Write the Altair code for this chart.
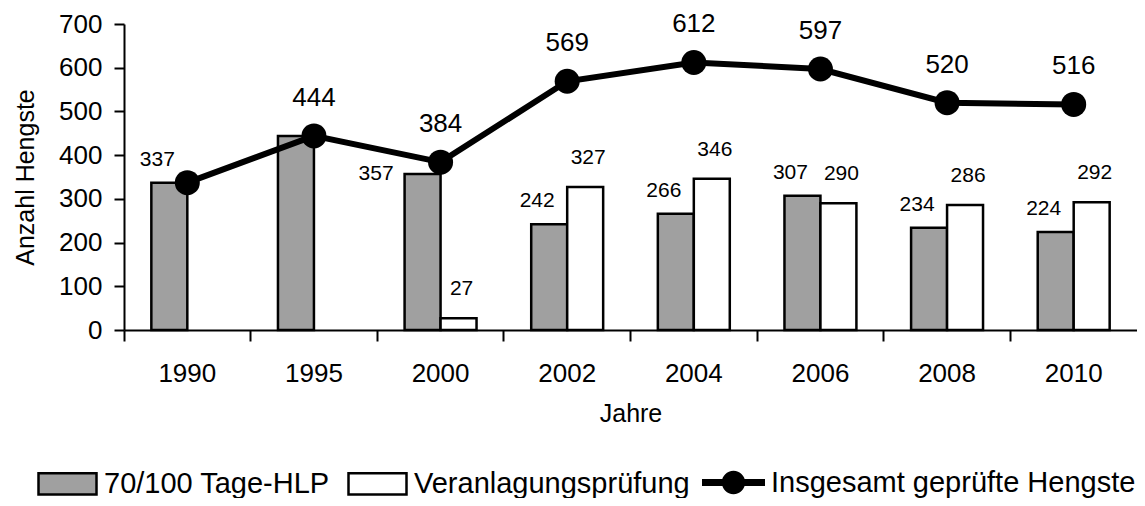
import altair as alt
import pandas as pd

years = ["1990", "1995", "2000", "2002", "2004", "2006", "2008", "2010"]
hlp = [337, 444, 357, 242, 266, 307, 234, 224]
vp = [None, None, 27, 327, 346, 290, 286, 292]
total = [337, 444, 384, 569, 612, 597, 520, 516]
series = ["70/100 Tage-HLP", "Veranlagungsprüfung", "Insgesamt geprüfte Hengste"]

rows = []
for y, h, v in zip(years, hlp, vp):
    rows.append({"Jahr": y, "Serie": series[0], "Wert": h})
    if v is not None:
        rows.append({"Jahr": y, "Serie": series[1], "Wert": v})
bars_df = pd.DataFrame(rows)
tot_df = pd.DataFrame({"Jahr": years, "Wert": total, "Serie": [series[2]] * len(years)})

FONT = "Liberation Sans"

xscale = alt.Scale(domain=years, paddingInner=0, paddingOuter=0)
yscale = alt.Scale(domain=[0, 700])

x_enc = alt.X("Jahr:N", scale=xscale, title="Jahre",
              axis=alt.Axis(bandPosition=0, labelOffset=0, labelAngle=0,
                            labelPadding=19, tickSize=11, titlePadding=15))
y_enc = alt.Y("Wert:Q", scale=yscale, title="Anzahl Hengste",
              axis=alt.Axis(values=[0, 100, 200, 300, 400, 500, 600, 700],
                            grid=False, tickSize=10, labelPadding=12,
                            titlePadding=20))
xoff = alt.XOffset("Serie:N", scale=alt.Scale(domain=series[:2], paddingInner=0, paddingOuter=0.76))
x_plain = alt.X("Jahr:N", scale=xscale)
y_plain = alt.Y("Wert:Q", scale=yscale)

sym_rect = "M-1,-0.37L1,-0.37L1,0.37L-1,0.37Z"
sym_line = ("M-1,-0.11L1,-0.11L1,0.11L-1,0.11Z "
            "M0,-0.37A0.37,0.37 0 1 1 0,0.37A0.37,0.37 0 1 1 0,-0.37Z")

legend_common = dict(
    orient="none", direction="horizontal", title=None,
    labelFont=FONT, labelFontSize=29, labelColor="black",
    symbolOpacity=1, columnPadding=13, labelOffset=6,
    padding=0, labelLimit=700,
)

bars = alt.Chart(bars_df).mark_bar(stroke="black", strokeWidth=2.5).encode(
    x=x_enc, y=y_enc, xOffset=xoff,
    fill=alt.Fill("Serie:N",
                  scale=alt.Scale(domain=series[:2], range=["#a0a0a0", "#ffffff"]),
                  legend=alt.Legend(legendX=-87, legendY=429, symbolType=sym_rect,
                                    symbolSize=3364,
                                    symbolStrokeColor="black", symbolStrokeWidth=2.5,
                                    **legend_common)),
)

line = alt.Chart(tot_df).mark_line(color="black", strokeWidth=6).encode(
    x=x_plain, y=y_plain)
pts = alt.Chart(tot_df).mark_point(filled=True, opacity=1, size=625, strokeWidth=0).encode(
    x=x_plain, y=y_plain,
    fill=alt.Fill("Serie:N", scale=alt.Scale(domain=[series[2]], range=["#000000"]),
                  legend=alt.Legend(legendX=578, legendY=427, symbolType=sym_line,
                                    symbolSize=3969, symbolStrokeWidth=0, **legend_common)),
)

tot_lab = alt.Chart(tot_df).transform_filter("datum.Jahr != '1990'").mark_text(
    font=FONT, fontSize=26, dy=-38, color="black").encode(
    x=x_plain, y=y_plain, text="Wert:Q")

hlp_lab = alt.Chart(bars_df).transform_filter(
    "datum.Serie == '%s' && datum.Jahr != '1995' && datum.Jahr != '2000'" % series[0]).mark_text(
    font=FONT, fontSize=21, dx=-12, dy=-23, color="black").encode(
    x=x_plain, y=y_plain, xOffset=xoff, text="Wert:Q")

hlp_lab2 = alt.Chart(bars_df).transform_filter(
    "datum.Serie == '%s' && datum.Jahr == '2000'" % series[0]).mark_text(
    font=FONT, fontSize=21, dx=-29, dy=0, align="right", color="black").encode(
    x=x_plain, y=y_plain, xOffset=xoff, text="Wert:Q")

vp_lab = alt.Chart(bars_df).transform_filter("datum.Serie == '%s'" % series[1]).mark_text(
    font=FONT, fontSize=21, dx=3, dy=-29, color="black").encode(
    x=x_plain, y=y_plain, xOffset=xoff, text="Wert:Q")

chart = alt.layer(bars, line, pts, tot_lab, hlp_lab, hlp_lab2, vp_lab).resolve_scale(
    fill="independent"
).properties(
    width=1013, height=306,
    autosize=alt.AutoSizeParams(type="none"),
    padding={"left": 116, "top": 16, "right": 0, "bottom": 168},
).configure_view(stroke=None).configure_axis(
    domainColor="black", domainWidth=2, tickColor="black", tickWidth=2,
    labelFont=FONT, labelFontSize=26, labelColor="black",
    titleFont=FONT, titleFontSize=25, titleColor="black", titleFontWeight="normal",
)

chart.save("out.html", embed_options={"renderer": "svg", "actions": False})
